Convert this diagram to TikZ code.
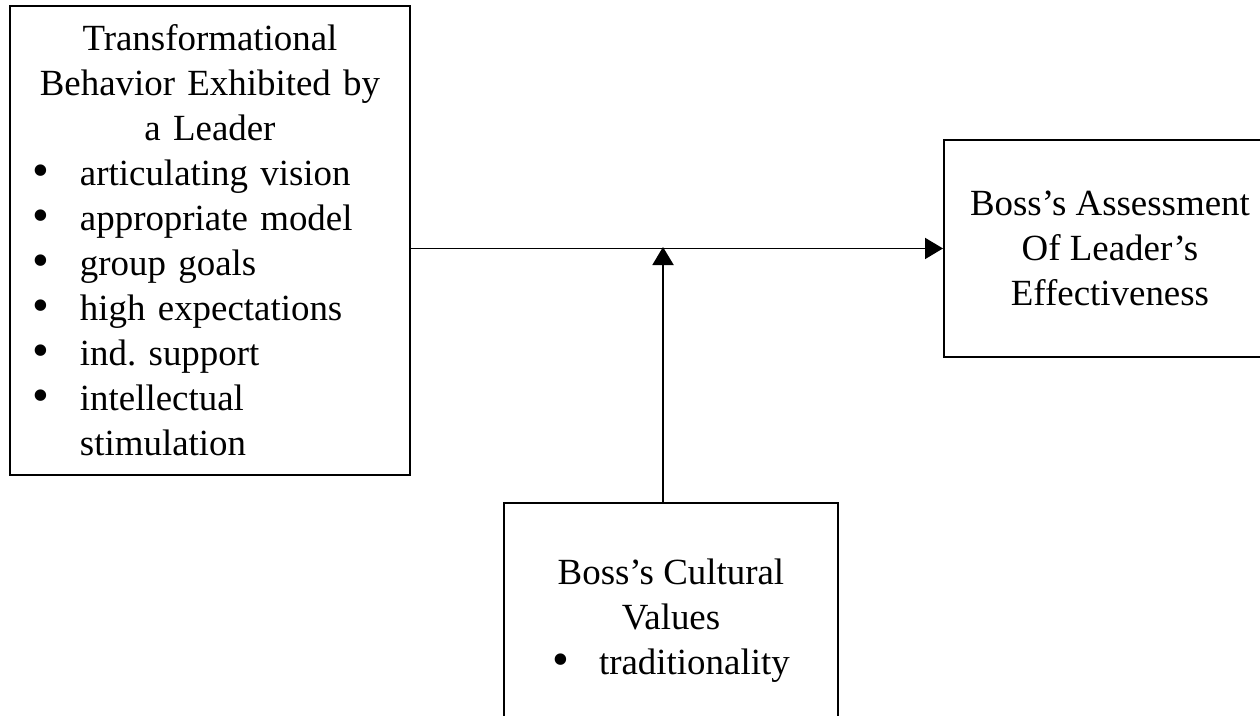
\documentclass[tikz,border=0pt]{standalone}
\usepackage{fontspec}
\setmainfont{Liberation Serif}
\usepackage{tikz}
\usetikzlibrary{positioning, arrows.meta}
\setlength{\parindent}{0pt}
\frenchspacing
\newcommand{\bul}{\raisebox{-0.03em}{\scalebox{1.3}{\textbullet}}}
\newcommand{\itm}[1]{\par\hangindent=0.94cm\hangafter=1\noindent
  \makebox[0.94cm][l]{\bul}#1}

\begin{document}
\begin{tikzpicture}[
    box/.style={draw, line width=1.1pt, rectangle,
      font=\fontsize{21}{25.6}\selectfont},
    arr/.style={-{Triangle[length=0.36cm, width=0.42cm]}, line width=1.1pt}
  ]
  \useasboundingbox (0,0) rectangle (25.2,-14.32);
  \clip (0,0) rectangle (25.2,-14.32);

  % left: behaviour of the leader
  \node[box, anchor=north west, text width=7.08cm, inner xsep=0.46cm,
        minimum height=9.38cm] (lead) at (0.18,-0.10) {%
    {\centering Transformational\\ Behavior Exhibited by\\ a Leader\par}
    \raggedright
    \itm{articulating vision}
    \itm{appropriate model}
    \itm{group goals}
    \itm{high expectations}
    \itm{ind. support}
    \itm{intellectual\newline stimulation}\par};

  % right: outcome (runs off the page)
  \node[box, anchor=north west, align=center, minimum width=6.64cm,
        minimum height=4.34cm] (effect) at (18.86,-2.78)
    {Boss’s Assessment\\ Of Leader’s\\ Effectiveness};

  % bottom: moderator (runs off the page)
  \node[box, anchor=north west, align=center, minimum width=6.68cm,
        minimum height=4.72cm] (vals) at (10.06,-10.04)
    {Boss’s Cultural\\ Values\\ \bul\hspace{0.6cm}traditionality};

  % main path and moderating arrow
  \coordinate (mid) at (13.26,-4.94);
  \draw[arr] (lead.east |- effect.west) -- (effect.west);
  \draw[arr] (vals.north -| mid) -- (mid);
\end{tikzpicture}
\end{document}
